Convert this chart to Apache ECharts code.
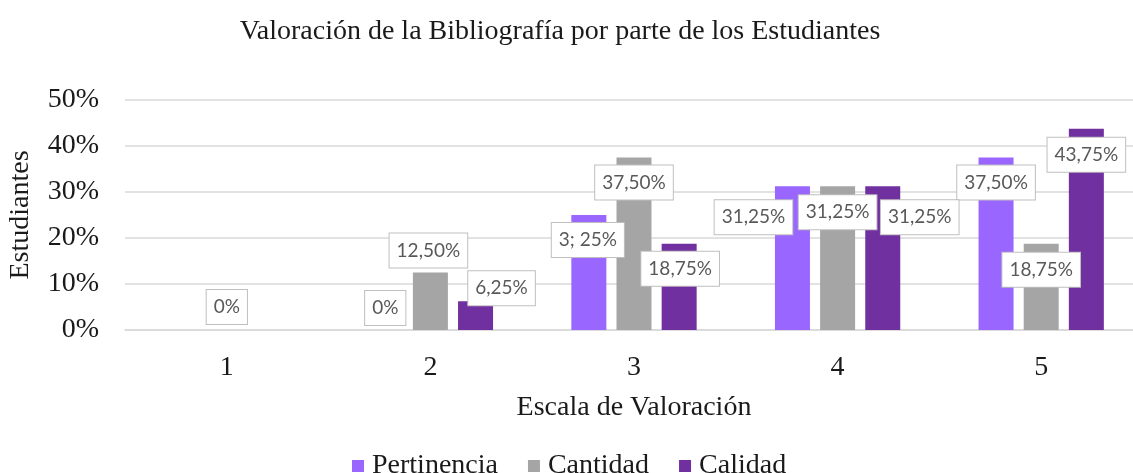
<!DOCTYPE html>
<html>
<head>
<meta charset="utf-8">
<script src="https://cdn.jsdelivr.net/npm/echarts@6/dist/echarts.min.js"></script>
<style>
  html, body { margin: 0; padding: 0; background: #fff; }
  #chart { width: 1133px; height: 473px; }
</style>
</head>
<body>
<div id="chart"></div>
<script>
// datos
const categories = ['1', '2', '3', '4', '5'];
const seriesNames = ['Pertinencia', 'Cantidad', 'Calidad'];
const pertinencia = [0, 0, 25, 31.25, 37.5];
const cantidad = [0, 12.5, 37.5, 31.25, 18.75];
const calidad = [0, 6.25, 18.75, 31.25, 43.75];
const yTicks = [0, 10, 20, 30, 40, 50];

// textos de las etiquetas (null = sin etiqueta)
const pertinenciaLabels = [null, '0%', '3; 25%', '31,25%', '37,50%'];
const cantidadLabels = ['0%', '12,50%', '37,50%', '31,25%', '18,75%'];
const calidadLabels = [null, '6,25%', '18,75%', '31,25%', '43,75%'];

// desplazamiento de cada etiqueta respecto al centro superior de la barra
const pertinenciaOffsets = [[0, 0], [0, -22], [-1, 25], [-39, 31], [0, 25]];
const cantidadOffsets = [[0, -23], [-2, -22], [0, 25], [0, 26], [0, 26]];
const calidadOffsets = [[0, 0], [26, -13], [1, 25], [37, 31], [0, 26]];

const colors = ['#9966ff', '#a5a5a5', '#7030a0'];
const serif = 'Liberation Serif';
const BAR_W = 35;

function buildData(values, labels, offsets) {
  return values.map((v, i) => {
    const item = { value: v };
    if (labels[i] === null) {
      item.label = { show: false };
    } else {
      item.label = {
        show: true,
        formatter: labels[i],
        position: [BAR_W / 2 + offsets[i][0], offsets[i][1]]
      };
    }
    return item;
  });
}

const labelStyle = {
  show: true,
  align: 'center',
  verticalAlign: 'middle',
  color: '#595959',
  fontFamily: 'Lato',
  fontSize: 19,
  backgroundColor: '#fff',
  borderColor: '#bfbfbf',
  borderWidth: 1,
  padding: [8, 7, 7, 7]
};

const chart = echarts.init(document.getElementById('chart'));

const option = {
  animation: false,
  title: {
    text: 'Valoración de la Bibliografía por parte de los Estudiantes',
    left: 555,
    textAlign: 'center',
    top: 13,
    textStyle: { fontFamily: serif, fontSize: 28, fontWeight: 'normal', color: '#1a1a1a' }
  },
  legend: {
    data: seriesNames,
    left: 347,
    top: 447,
    itemWidth: 12,
    itemHeight: 12,
    itemGap: 30,
    icon: 'rect',
    textStyle: { fontFamily: serif, fontSize: 28, color: '#1a1a1a', padding: [0, 0, 0, 3] }
  },
  grid: { left: 125, right: -10, top: 100, bottom: 143, outerBoundsMode: 'none' },
  xAxis: {
    type: 'category',
    data: categories,
    name: 'Escala de Valoración',
    nameLocation: 'middle',
    nameGap: 64,
    nameTextStyle: { fontFamily: serif, fontSize: 28, color: '#1a1a1a' },
    axisLine: { lineStyle: { color: '#d9d9d9', width: 1.5 } },
    axisTick: { show: false },
    axisLabel: { fontFamily: serif, fontSize: 28, color: '#1a1a1a', margin: 24 }
  },
  yAxis: {
    type: 'value',
    min: yTicks[0],
    max: yTicks[yTicks.length - 1],
    interval: 10,
    name: 'Estudiantes',
    nameLocation: 'middle',
    nameGap: 90,
    nameRotate: 90,
    nameTextStyle: { fontFamily: serif, fontSize: 28, color: '#1a1a1a' },
    axisLine: { show: false },
    axisTick: { show: false },
    axisLabel: { fontFamily: serif, fontSize: 28, color: '#1a1a1a', margin: 26, formatter: '{value}%' },
    splitLine: { lineStyle: { color: '#d9d9d9', width: 1.5 } }
  },
  series: [
    {
      name: seriesNames[0], type: 'bar', barWidth: BAR_W, barGap: '29%',
      itemStyle: { color: colors[0] },
      label: labelStyle,
      data: buildData(pertinencia, pertinenciaLabels, pertinenciaOffsets)
    },
    {
      name: seriesNames[1], type: 'bar', barWidth: BAR_W, barGap: '29%',
      itemStyle: { color: colors[1] },
      label: labelStyle,
      data: buildData(cantidad, cantidadLabels, cantidadOffsets)
    },
    {
      name: seriesNames[2], type: 'bar', barWidth: BAR_W, barGap: '29%',
      itemStyle: { color: colors[2] },
      label: labelStyle,
      data: buildData(calidad, calidadLabels, calidadOffsets)
    }
  ]
};

chart.setOption(option);
</script>
</body>
</html>
